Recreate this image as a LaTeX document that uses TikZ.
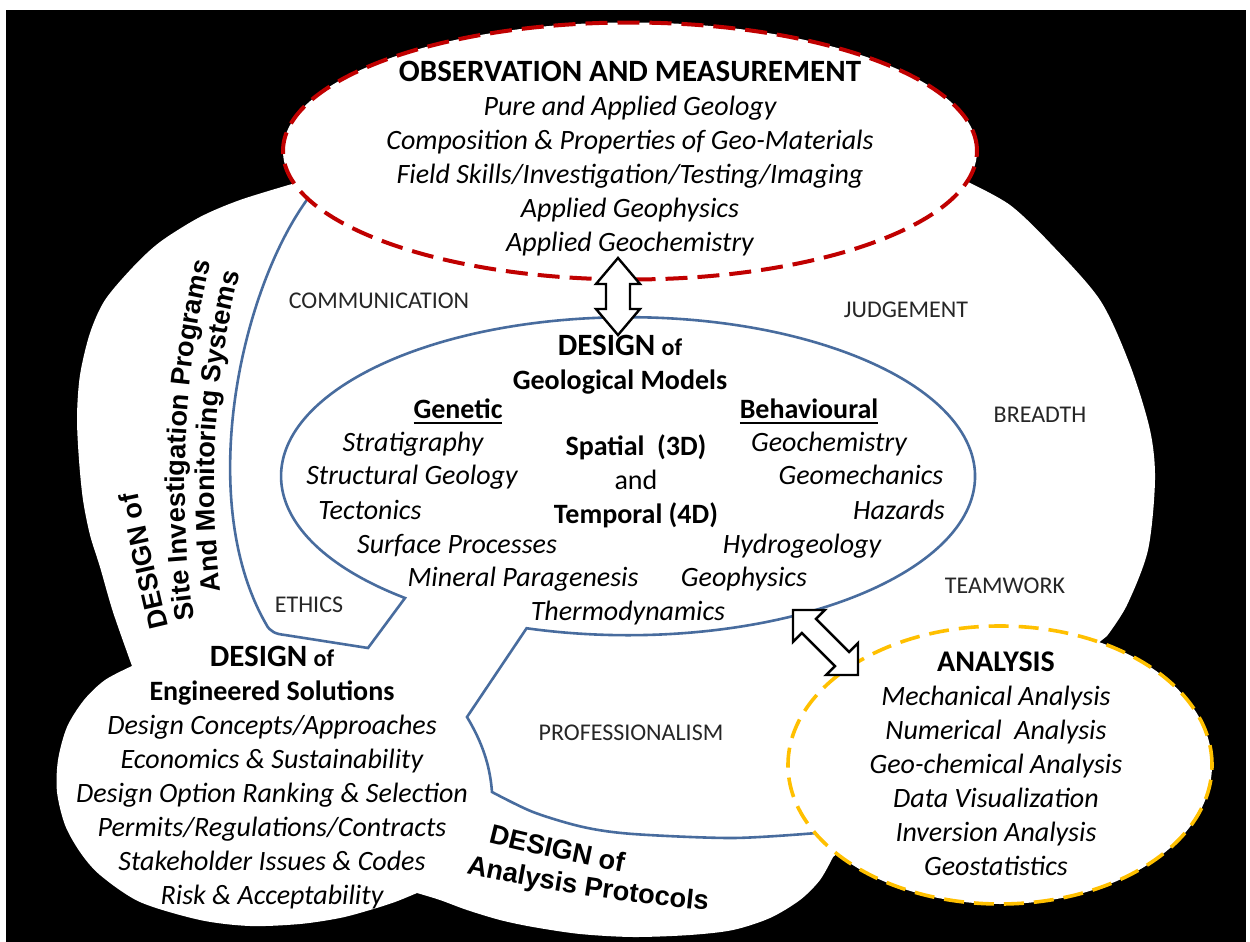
\documentclass[tikz,border=0pt]{standalone}
\usepackage{fontspec}
\setmainfont{Carlito}
\newfontfamily\artfont{Liberation Sans}
\usetikzlibrary{shapes.geometric,decorations.text}

\definecolor{obsred}{RGB}{192,0,0}
\definecolor{anlgold}{RGB}{255,192,0}
\definecolor{modelblue}{RGB}{72,108,158}

% hollow double arrow along x: half length, head length, half head width, half shaft width
\def\dblarrow(#1:#2:#3:#4){\draw[blockarrow] (-#1,0) -- ({-#1+#2},#3) -- ({-#1+#2},#4) -- ({#1-#2},#4) -- ({#1-#2},#3) -- (#1,0) -- ({#1-#2},-#3) -- ({#1-#2},-#4) -- ({-#1+#2},-#4) -- ({-#1+#2},-#3) -- cycle;}
\newcommand{\designof}{{\fontsize{15.5}{17}\selectfont DESIGN} {\fontsize{12}{17}\selectfont of}}
\newcommand{\wordart}{\artfont\bfseries\fontsize{13.6}{15}\selectfont}
\newcommand{\thickul}[1]{\setbox0\hbox{#1}\rlap{\raisebox{-2.5pt}{\rule{\wd0}{1pt}}}\box0}

\begin{document}
\begin{tikzpicture}[x=0.5pt, y=-0.5pt,
    ring/.style={ellipse, inner sep=0pt, fill=white, line width=2pt},
    obsring/.style={ring, draw=obsred, dash pattern=on 11pt off 5pt, minimum width=347pt, minimum height=128.5pt},
    anlring/.style={ring, draw=anlgold, line width=1.8pt, dash pattern=on 10pt off 5pt, minimum width=212pt, minimum height=139pt},
    modelline/.style={draw=modelblue, line width=1.3pt},
    blockarrow/.style={draw=black, line width=1.2pt, fill=white, line join=miter},
    lbl/.style={font=\fontsize{12}{14}\selectfont, text=black!85},
    itl/.style={font=\fontsize{14}{17}\selectfont\itshape, text height=10pt, text depth=3.5pt, inner sep=0pt},
    bld/.style={font=\fontsize{14}{17}\selectfont\bfseries, text height=10pt, text depth=3.5pt, inner sep=0pt},
    block/.style={align=center, font=\fontsize{14}{17}\selectfont\itshape, inner sep=0pt},
    art/.style={decorate, decoration={text along path, text align=center, text={|\wordart|#1}}}]

    \useasboundingbox (0,0) rectangle (1250,942);
    \fill[white] (0,0) rectangle (1250,942);
    \fill[black] (6,10) rectangle (1246,942);

    %%% white cloud
    \fill[white] plot[smooth] coordinates {(292,184) (240,200) (200,217) (160,242) (133,267) (105,300) (90,333) (80,375) (77,417) (79,460) (83,500) (90,535) (100,567) (113,612) (132,666)}
        -- plot[smooth] coordinates {(132,666) (105,680) (84,700) (67,727) (58,760) (57,792) (65,825) (80,852) (100,875) (140,902) (200,920) (250,926) (300,924) (340,918) (370,910) (395,902) (417,893)}
        -- plot[smooth] coordinates {(417,893) (440,900) (467,910) (500,920) (533,927) (580,934) (633,937) (690,935) (733,930) (770,918) (800,900) (820,880) (833,857)}
        -- (1107,636)
        -- plot[smooth] coordinates {(1107,636) (1127,605) (1148,550) (1155,480) (1150,430) (1130,365) (1100,300) (1050,243) (1010,205) (968,182)}
        -- cycle;

    %%% blue borders of the model region
    \draw[modelline] (309,197) .. controls (240,290) and (195,500) .. (266,624)
        .. controls (270,632) and (276,634) .. (285,635) -- (368,648) -- (405,598)
        arc[start angle=130, end angle=467, x radius=347, y radius=159]
        -- (467,717) .. controls (482,742) and (490,765) .. (492,792)
        -- plot[smooth] coordinates {(492,792) (533,812) (583,827) (633,834) (733,838) (817,833)};

    %%% dashed rings
    \node[obsring] (obs) at (630,151) {};
    \node[anlring] (anl) at (1000,765) {};

    %%% observation
    \node[block] (obstext) at (obs) [yshift=-4pt] {{\bfseries\upshape\fontsize{15.5}{17}\selectfont OBSERVATION AND MEASUREMENT}\\
        Pure and Applied Geology\\
        Composition \& Properties of Geo-Materials\\
        Field Skills/Investigation/Testing/Imaging\\
        Applied Geophysics\\
        Applied Geochemistry};

    %%% geological models
    \node[block, font=\fontsize{14}{17}\selectfont\bfseries] (models) at (620,365) {\designof\\Geological Models};
    \node[bld] (genetic) at (458,412) {\thickul{Genetic}};
    \node[bld] (behav) at (809,412) {\thickul{Behavioural}};
    \node[itl] (strat) at (413,445) {Stratigraphy};
    \node[itl] (struct) at (412,478) {Structural Geology};
    \node[itl] (tecto) at (370,513) {Tectonics};
    \node[itl] (surf) at (457,547) {Surface Processes};
    \node[itl] (miner) at (523,580) {Mineral Paragenesis};
    \node[itl] (thermo) at (628,614) {Thermodynamics};
    \node[itl] (geochem) at (829,445) {Geochemistry};
    \node[itl] (geomech) at (861,478) {Geomechanics};
    \node[itl] (hazard) at (899,513) {Hazards};
    \node[itl] (hydro) at (802,547) {Hydrogeology};
    \node[itl] (geophys) at (744,580) {Geophysics};
    \node[block, font=\fontsize{14}{17}\selectfont] (spacetime) at (636,481) {\textbf{Spatial\ \ (3D)}\\and\\\textbf{Temporal (4D)}};

    %%% engineered solutions
    \node[block] (solutions) at (272,778) {{\bfseries\upshape\designof}\\
        {\bfseries\upshape Engineered Solutions}\\
        Design Concepts/Approaches\\
        Economics \& Sustainability\\
        Design Option Ranking \& Selection\\
        Permits/Regulations/Contracts\\
        Stakeholder Issues \& Codes\\
        Risk \& Acceptability};

    %%% analysis
    \node[block] (anltext) at (996,764) {{\bfseries\upshape\fontsize{15}{17}\selectfont ANALYSIS}\\
        Mechanical Analysis\\
        Numerical\ \ Analysis\\
        Geo-chemical Analysis\\
        Data Visualization\\
        Inversion Analysis\\
        Geostatistics};

    %%% attributes
    \node[lbl] (comm) at (379,301) {COMMUNICATION};
    \node[lbl] (judge) at (906,310) {JUDGEMENT};
    \node[lbl] (breadth) at (1040,415) {BREADTH};
    \node[lbl] (team) at (1005,586) {TEAMWORK};
    \node[lbl] (ethics) at (309,605) {ETHICS};
    \node[lbl] (prof) at (631,733) {PROFESSIONALISM};

    %%% curved headings
    \path[art={DESIGN of}] (174,650) .. controls (162,604) and (142,512) .. (133,468);
    \path[art={Site Investigation Programs}] (201,662) .. controls (174,515) and (181,364) .. (221,220);
    \path[art={And Monitoring Systems}] (226,628) .. controls (205,506) and (212,355) .. (250,238);
    \path[art={DESIGN of}] (440,830) .. controls (500,846) and (600,870) .. (672,880);
    \path[art={Analysis Protocols}] (430,864) .. controls (520,889) and (662,908) .. (745,913);

    %%% links between the rings
    \coordinate (obslink) at (618,296.5);
    \coordinate (anllink) at (825.5,642.5);
    \begin{scope}[shift={(obslink)}, rotate=90]
        \dblarrow(38.5:26:22:12)
    \end{scope}
    \begin{scope}[shift={(anllink)}, rotate=-45]
        \dblarrow(46:22.6:22.6:10)
    \end{scope}

\end{tikzpicture}
\end{document}
